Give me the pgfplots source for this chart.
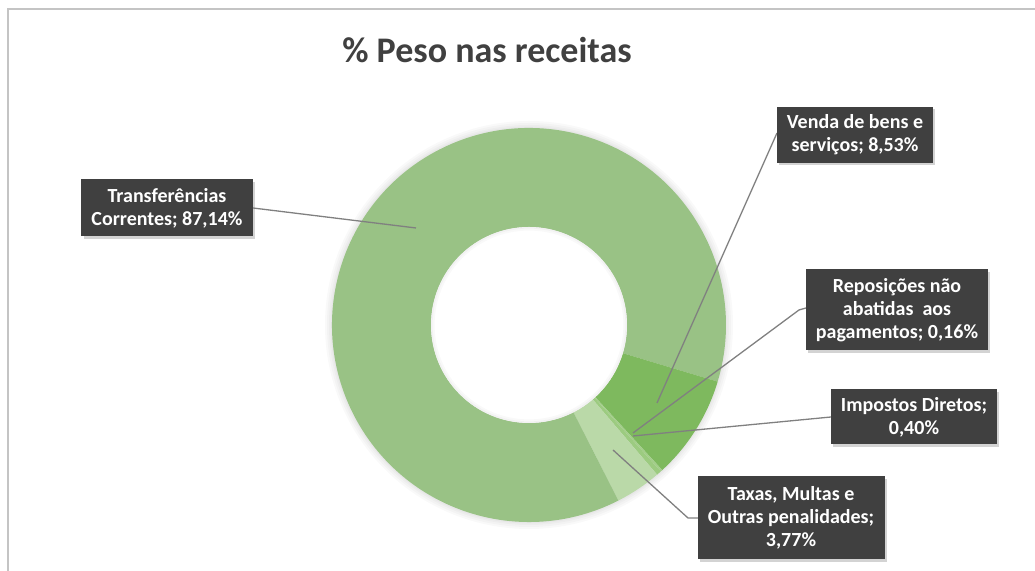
\documentclass[border=0pt]{standalone}
\usepackage{pgfplots}
\pgfplotsset{compat=1.18}
\usepackage{pgfplotstable}
\usepackage{fontspec}
\setmainfont{Carlito}
\usetikzlibrary{shadows}

\definecolor{slice0}{HTML}{9CCB80} % Impostos Diretos
\definecolor{slice1}{HTML}{BAD9A8} % Taxas
\definecolor{slice2}{HTML}{99C285} % Transferencias
\definecolor{slice3}{HTML}{7EB95E} % Venda
\definecolor{slice4}{HTML}{A3CE8A} % Reposicoes
\definecolor{boxgray}{HTML}{404040}
\definecolor{leader}{HTML}{808080}
\definecolor{framegray}{HTML}{C4C4C4}

% data order, drawn clockwise; first slice begins 138 deg clockwise from 12 o'clock
\pgfplotstableread{
label value
Impostos 0.40
Taxas 3.77
Transferencias 87.14
Venda 8.53
Reposicoes 0.16
}\receitas

\tikzset{lbl/.style={fill=boxgray, text=white, align=center, inner sep=0pt,
  font=\fontsize{10}{11.6}\selectfont\bfseries,
  drop shadow={shadow xshift=1.2pt, shadow yshift=-1.2pt, opacity=0.35}},
  ldr/.style={leader, line width=0.65pt}}

\begin{document}
\begin{tikzpicture}
\pgfplotstablegetrowsof{\receitas}
\pgfmathtruncatemacro\lastrow{\pgfplotsretval-1}
\xdef\acc{-48}
\foreach \i in {0,...,\lastrow}{%
  \pgfplotstablegetelem{\i}{value}\of\receitas
  \pgfmathsetmacro\ea{\acc-3.6*\pgfplotsretval}%
  \expandafter\xdef\csname sa\i\endcsname{\acc}%
  \expandafter\xdef\csname ea\i\endcsname{\ea}%
  \xdef\acc{\ea}%
}
\begin{axis}[
  width=517.5pt, height=285.5pt, scale only axis,
  xmin=0, xmax=1035, ymin=0, ymax=571,
  hide axis, clip=false]
% chart frame
\draw[framegray, line width=1pt] (axis cs:8,0) -- (axis cs:8,562) -- (axis cs:1035,562);
% title
\node[anchor=base, text=boxgray, font=\fontsize{18}{20}\selectfont\bfseries]
  at (axis cs:487,508.5) {\% Peso nas receitas};
% soft glow round the ring
\pgfplotsinvokeforeach{102,101,100,99.2}{
  \fill[black, opacity=0.025] (axis cs:529,246) circle[radius=#1pt];
}
% ring slices
\pgfplotsinvokeforeach{0,...,4}{
  \fill[slice#1] (axis cs:529,246) ++(\csname sa#1\endcsname:98.5pt)
    arc[start angle=\csname sa#1\endcsname, end angle=\csname ea#1\endcsname, radius=98.5pt]
    -- ++(\csname ea#1\endcsname:-49.5pt)
    arc[start angle=\csname ea#1\endcsname, end angle=\csname sa#1\endcsname, radius=49pt]
    -- cycle;
}
% soft shade inside the hole
\fill[white] (axis cs:529,246) circle[radius=49pt];
\fill[black, opacity=0.05, even odd rule] (axis cs:529,246) circle[radius=49pt] circle[radius=48.2pt];
\fill[black, opacity=0.025, even odd rule] (axis cs:529,246) circle[radius=48.2pt] circle[radius=47.2pt];
% leader lines
\draw[ldr] (axis cs:253,363) -- (axis cs:416,343);
\draw[ldr] (axis cs:777,438) -- (axis cs:657,168);
\draw[ldr] (axis cs:806,263) -- (axis cs:799,261) -- (axis cs:633,138);
\draw[ldr] (axis cs:831,154) -- (axis cs:633,135);
\draw[ldr] (axis cs:698,53) -- (axis cs:688,53) -- (axis cs:613,121);
% data labels
\node[lbl, minimum width=85.5pt, minimum height=28.5pt] at (axis cs:167,363)
  {Transferências\\Correntes; 87,14\%};
\node[lbl, minimum width=78pt, minimum height=28pt] at (axis cs:855,436)
  {Venda de bens e\\serviços; 8,53\%};
\node[lbl, minimum width=91pt, minimum height=40.5pt] at (axis cs:897,261)
  {Reposições não\\abatidas\ \ aos\\pagamentos; 0,16\%};
\node[lbl, minimum width=83pt, minimum height=27.5pt] at (axis cs:914,154)
  {Impostos Diretos;\\0,40\%};
\node[lbl, minimum width=93.5pt, minimum height=41.5pt] at (axis cs:791,53)
  {Taxas, Multas e\\Outras penalidades;\\3,77\%};
\end{axis}
\pgfresetboundingbox
\path (0,0) rectangle (517.5pt,285.5pt);
\end{tikzpicture}
\end{document}
